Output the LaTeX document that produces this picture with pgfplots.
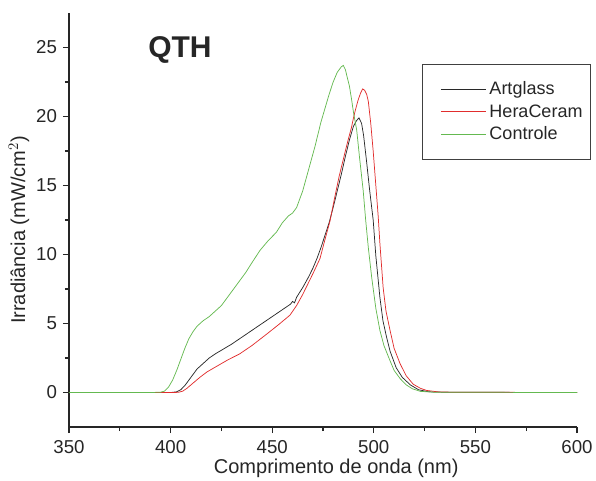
\documentclass[border=0pt]{standalone}
\usepackage{pgfplots}
\pgfplotsset{compat=1.18}
\usepackage{fontspec}
\setmainfont{Liberation Sans}
\definecolor{cArt}{RGB}{40,40,40}
\definecolor{cHera}{RGB}{225,45,45}
\definecolor{cCtrl}{RGB}{100,185,80}
\begin{document}
\begin{tikzpicture}
% 1px of the reference = 0.75pt
\useasboundingbox (-51.75pt,-39.75pt) rectangle (395.25pt,320.25pt);
\begin{axis}[
    scale only axis,
    width=381pt, height=310.5pt,
    xmin=350, xmax=600,
    ymin=-2.5, ymax=27.5,
    axis lines*=left,
    axis line style={line width=0.9pt, black!85},
    xtick={350,400,...,600},
    ytick={0,5,...,25},
    minor x tick num=1,
    minor y tick num=1,
    tick align=outside,
    major tick length=4.5pt,
    minor tick length=3pt,
    tick style={line width=0.9pt, black!85},
    /pgf/number format/assume math mode=true,
    ticklabel style={font=\fontsize{14}{16}\selectfont, text=black!85},
    xticklabel style={yshift=-2pt},
    yticklabel style={xshift=-1pt},
    xlabel={Comprimento de onda (nm)},
    ylabel={Irradiância (mW/cm$^2$)},
    every axis x label/.style={at={(axis description cs:0.526,-0.1)}, anchor=center, font=\fontsize{15}{17}\selectfont, text=black!85},
    every axis y label/.style={at={(axis description cs:-0.0984,0.476)}, rotate=90, anchor=center, font=\fontsize{15}{17}\selectfont, text=black!85},
    legend cell align=left,
    legend style={at={(rel axis cs:0.695,0.877)}, anchor=north west, draw=black!75, line width=0.8pt,
        font=\fontsize{13.5}{16}\selectfont, text=black!85,
        inner xsep=4pt, inner ysep=11pt, row sep=1.8pt,
        nodes={inner xsep=2pt}},
    legend image code/.code={\path (0pt,0pt); \draw[#1, line width=0.8pt] (9.5pt,0pt) -- (43.5pt,0pt);},
]
\addplot[cArt, line width=0.55pt] coordinates {
(350,0) (400,0) (403,0.05) (405,0.2) (407,0.5) (409,0.9) (411,1.3) (413,1.7) (416,2.1) (419,2.5)
(422,2.8) (426,3.15) (430,3.5) (434,3.9) (438,4.3) (442,4.7) (446,5.1) (450,5.5) (454,5.9) (457,6.2)
(459,6.4) (460,6.6) (461,6.5) (462,6.9) (465,7.6) (468,8.4) (470,9.0) (472,9.7) (474,10.5) (476,11.4)
(478,12.3) (480,13.4) (482,14.6) (484,15.8) (486,17.1) (488,18.3) (490,19.3) (491.5,19.7) (492.7,19.9)
(494,19.5) (495,18.6) (496.4,16.8) (498,14.6) (499.7,12.5) (501,9.9) (503,6.9) (504.5,5.2) (506.3,4.0)
(508,3.0) (511,1.8) (514,1.1) (518,0.55) (522,0.2) (527,0.05) (535,0.02) (600,0)
};
\addlegendentry{Artglass}
\addplot[cHera, line width=0.55pt] coordinates {
(350,0) (402,0) (404,0.02) (406,0.1) (408,0.3) (410,0.55) (412,0.8) (414.4,1.1) (418,1.5) (422.7,1.9)
(428,2.35) (434,2.8) (440,3.4) (447,4.2) (453,4.9) (458.7,5.6) (462,6.3) (465,7.1) (467,7.7) (470,8.6)
(473.5,9.7) (476,11.1) (478.4,12.4) (481,14.3) (483,15.7) (485,16.9) (487,18.1) (489,19.2) (490,19.9)
(491,20.5) (492.3,21.2) (493.5,21.7) (494.5,22.0) (495.5,21.9) (496.5,21.6) (497.3,21.1) (498.5,19.5)
(499.7,17.5) (501,15.0) (502.2,12.7) (503,10.8) (504.6,7.6) (506,5.9) (508,4.5) (510,3.2) (512.9,2.1)
(516,1.2) (519.4,0.6) (523,0.3) (526,0.15) (532,0.04) (540,0.02) (600,0)
};
\addlegendentry{HeraCeram}
\addplot[cCtrl, line width=0.55pt] coordinates {
(350,0) (390,0) (395,0.02) (397,0.1) (399,0.4) (401,0.9) (403,1.6) (405,2.4) (407,3.2) (409,3.9)
(411,4.4) (413,4.8) (416,5.2) (419,5.5) (422,5.9) (425,6.3) (428,6.9) (431,7.5) (434,8.1) (437,8.7)
(440,9.4) (444,10.3) (448,11.0) (452,11.6) (455,12.3) (458,12.8) (460,13.0) (462,13.4) (465,14.6)
(468,16.2) (471,17.8) (474,19.6) (476,20.6) (478,21.6) (480,22.5) (482,23.2) (484,23.6) (485,23.7)
(486,23.4) (487,22.8) (488,22.2) (489,21.3) (490,20.3) (491.6,19.0) (493,17.0) (494.8,14.6) (496,12.5)
(497.3,10.5) (499,8.3) (501,6.1) (503,4.5) (505,3.4) (508,2.3) (510,1.6) (513,1.0) (516,0.55)
(519,0.27) (523,0.08) (530,0.02) (600,0)
};
\addlegendentry{Controle}
\node[anchor=west, font=\fontsize{22.5}{26}\bfseries, text=black!85, inner sep=0pt] at (rel axis cs:0.1555,0.9106) {QTH};
\end{axis}
\end{tikzpicture}
\end{document}
